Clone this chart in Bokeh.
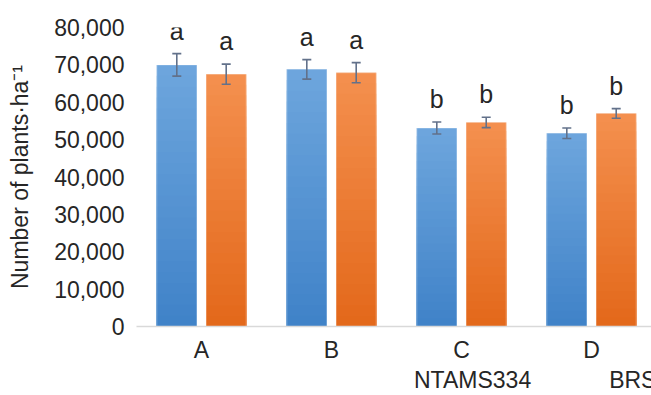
import numpy as np
from bokeh.plotting import figure
from bokeh.layouts import column
from bokeh.models import (ColumnDataSource, FixedTicker, NumeralTickFormatter, Whisker, TeeHead,
                          Legend, LegendItem, Range1d, LabelSet)
from bokeh.core.properties import value
from bokeh.embed import file_html
from bokeh.resources import INLINE

# ---- data ----
categories = ["A", "B", "C", "D"]
ntams334 = [70000, 68800, 53100, 51700]
ntams334_err = [3000, 2600, 1600, 1400]
brs293 = [67500, 67900, 54600, 57000]
brs293_err = [2700, 2700, 1400, 1300]
ntams334_letters = ["a", "a", "b", "b"]
brs293_letters = ["a", "a", "b", "b"]
series_names = ["NTAMS334", "BRS293"]

FONT = "Liberation Sans"
TXT = "#262626"

p = figure(width=651, height=365, output_backend="svg", toolbar_location=None,
           x_range=Range1d(0, 3.9615), y_range=Range1d(0, 80000),
           min_border_left=136, min_border_right=0, min_border_top=27, min_border_bottom=37)
p.outline_line_color = None
p.xgrid.visible = False
p.ygrid.visible = False
p.background_fill_color = "white"
p.border_fill_color = "white"

centers = np.arange(len(categories)) + 0.5
off = 0.19
bw = 0.308

def hex2rgb(h):
    h = h.lstrip("#")
    return np.array([int(h[i:i+2], 16) for i in (0, 2, 4)], dtype=float)

def mix(c1, c2, t):
    c = hex2rgb(c1) * (1 - t) + hex2rgb(c2) * t
    return "#%02x%02x%02x" % tuple(int(round(v)) for v in c)

styles = [
    dict(vals=ntams334, err=ntams334_err, lets=ntams334_letters, dx=-off,
         solid="#4a8bd0", top="#6ea6dd", bot="#3f82c8"),
    dict(vals=brs293, err=brs293_err, lets=brs293_letters, dx=off,
         solid="#e86e22", top="#f4904f", bot="#e3681a"),
]

# legend strip (separate small figure below the chart)
p2 = figure(width=651, height=30, output_backend="svg", toolbar_location=None,
            x_range=Range1d(0, 1), y_range=Range1d(0, 1), x_axis_type=None, y_axis_type=None,
            min_border_left=0, min_border_right=0, min_border_top=0, min_border_bottom=0)
p2.outline_line_color = None
p2.xgrid.visible = False
p2.ygrid.visible = False
p2.background_fill_color = "white"
p2.border_fill_color = "white"

N = 24
legend_items = []
for name, st in zip(series_names, styles):
    xs = centers + st["dx"]
    vals = np.array(st["vals"], dtype=float)
    errs = np.array(st["err"], dtype=float)
    p.vbar(x=xs, top=vals, width=bw, fill_color=st["solid"], line_color=None)
    # vertical gradient: draw from tallest (lightest) to shortest (darkest)
    for k in range(N):
        frac = (N - k) / N
        col = mix(st["bot"], st["top"], (N - k - 0.5) / N)
        p.vbar(x=xs, top=vals * frac, width=bw, fill_color=col, line_color=None)
    p.vbar(x=xs, top=vals, width=bw, fill_color=None, line_color="white", line_alpha=0.35, line_width=1)
    src = ColumnDataSource(dict(x=xs, upper=vals + errs, lower=vals - errs, lets=st["lets"]))
    w = Whisker(source=src, base="x", upper="upper", lower="lower", dimension="height",
                line_color="#62718a", line_width=1.6, level="overlay",
                upper_head=TeeHead(size=9, line_color="#62718a", line_width=1.6),
                lower_head=TeeHead(size=9, line_color="#62718a", line_width=1.6))
    p.add_layout(w)
    labels = LabelSet(x="x", y="upper", text="lets", source=src, text_align="center",
                      text_baseline="alphabetic", y_offset=14, text_font=value(FONT),
                      text_font_size=value("25px"), text_color=TXT, level="overlay")
    p.add_layout(labels)
    # legend swatch renderer (no data, only used for the legend glyph)
    sw = p2.vbar(x=[], top=[], width=0.1, fill_color=st["solid"], line_color=None)
    legend_items.append(LegendItem(label=name, renderers=[sw]))

# axes
p.xaxis.ticker = FixedTicker(ticks=list(centers))
p.xaxis.major_label_overrides = {float(c): cat for c, cat in zip(centers, categories)}
p.xaxis.major_tick_line_color = None
p.xaxis.major_tick_out = 0
p.xaxis.major_tick_in = 0
p.xaxis.minor_tick_line_color = None
p.xaxis.minor_tick_out = 0
p.xaxis.axis_label_standoff = 0
p.xaxis.axis_line_color = "#d9d9d9"
p.xaxis.axis_line_width = 1.5
p.xaxis.major_label_text_font = FONT
p.xaxis.major_label_text_font_size = "23px"
p.xaxis.major_label_text_color = TXT
p.xaxis.major_label_standoff = 10

p.yaxis.ticker = FixedTicker(ticks=list(range(0, 80001, 10000)))
p.yaxis.formatter = NumeralTickFormatter(format="0,0")
p.yaxis.major_tick_line_color = None
p.yaxis.major_tick_out = 0
p.yaxis.major_tick_in = 0
p.yaxis.minor_tick_line_color = None
p.yaxis.minor_tick_out = 0
p.yaxis.axis_line_color = None
p.yaxis.major_label_text_font = FONT
p.yaxis.major_label_text_font_size = "23px"
p.yaxis.major_label_text_color = TXT
p.yaxis.major_label_standoff = 12
p.yaxis.axis_label = "Number of plants·ha⁻¹"
p.yaxis.axis_label_text_font = FONT
p.yaxis.axis_label_text_font_size = "23px"
p.yaxis.axis_label_text_font_style = "normal"
p.yaxis.axis_label_text_color = TXT
p.yaxis.axis_label_standoff = 18

legend = Legend(items=legend_items, orientation="horizontal", location=(262, 1),
                glyph_width=10, glyph_height=10, label_standoff=6, spacing=62,
                padding=0, margin=0, border_line_color=None, background_fill_alpha=0,
                label_text_font=FONT, label_text_font_size="23px", label_text_color=TXT)
p2.add_layout(legend, "center")

layout = column(p, p2, spacing=0)
open("out.html", "w").write(file_html(layout, INLINE))
